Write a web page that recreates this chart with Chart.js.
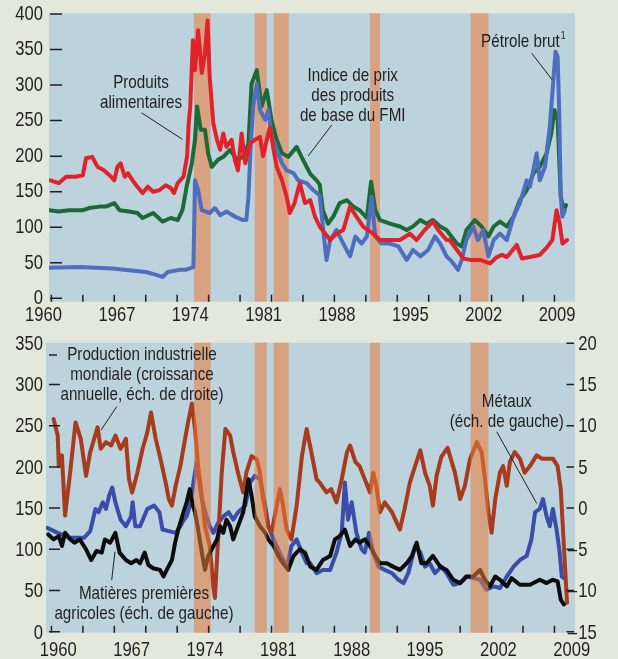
<!DOCTYPE html>
<html lang="fr">
<head>
<meta charset="utf-8">
<title>Prix des produits de base et production industrielle</title>
<script src="https://cdn.jsdelivr.net/npm/chart.js@4.4.1/dist/chart.umd.min.js"></script>
<style>
  html, body { margin: 0; padding: 0; background: #e3e8da; }
  #wrap { position: relative; width: 618px; height: 659px; }
  canvas { position: absolute; left: 0; }
  #top { top: 0; }
  #bottom { top: 330px; }
</style>
</head>
<body>
<div id="wrap">
  <canvas id="top" width="618" height="330"></canvas>
  <canvas id="bottom" width="618" height="329"></canvas>
</div>
<script>
const FONT = '"Liberation Sans", Arial, sans-serif';
const INK = "#231f20";
const PLOT_BG = "#bcd2dc";

// recession periods (years)
const recessionStart = [1973.9, 1979.7, 1981.5, 1990.7, 2000.3];
const recessionEnd = [1975.5, 1980.85, 1982.95, 1991.65, 2002.0];

// axis labels and tick marks
const yearLabels = ["1960", "1967", "1974", "1981", "1988", "1995", "2002", "2009"];
const yearTickMarks = [1960.3, 1963.3, 1966.3, 1969.3, 1972.3, 1975.3, 1978.3, 1981.3, 1984.3,
  1987.3, 1990.3, 1993.3, 1996.3, 1999.3, 2002.3, 2005.3, 2008.3];
const topTicks = [0, 50, 100, 150, 200, 250, 300, 350, 400];
const leftTicks = [0, 50, 100, 150, 200, 250, 300, 350];
const rightTicks = [20, 15, 10, 5, 0, -5, -10, -15];

// top panel: food, IMF commodity index, crude oil
const foodYears = [1960.2, 1961.0, 1961.7, 1962.6, 1963.3, 1963.6, 1964.2, 1964.7, 1965.3, 1966.0, 1966.3, 1966.6, 1966.9,
  1967.3, 1967.6, 1968.05, 1968.5, 1969.0, 1969.5, 1970.0, 1970.6, 1971.2, 1971.7, 1972.0, 1972.35, 1972.9,
  1973.25, 1973.4, 1973.55, 1973.8, 1974.0, 1974.3, 1974.65, 1974.95, 1975.2, 1975.4, 1975.75, 1976.1, 1976.4,
  1976.7, 1977.0, 1977.5, 1977.8, 1978.1, 1978.45, 1978.8, 1979.25, 1979.7, 1980.2, 1980.5, 1980.85, 1981.15,
  1981.5, 1981.8, 1982.3, 1982.75, 1983.05, 1983.5, 1984.0, 1984.5, 1985.0, 1985.45, 1985.9, 1986.9, 1987.5,
  1988.15, 1988.8, 1989.4, 1990.05, 1991.0, 1991.65, 1992.6, 1993.55, 1994.5, 1995.15, 1995.8, 1996.7, 1997.2,
  1998.0, 1998.3, 1999.0, 1999.6, 2000.25, 2001.2, 2002.15, 2002.8, 2003.3, 2003.77, 2004.7, 2005.2, 2005.96,
  2006.9, 2007.6, 2008.1, 2008.5, 2008.8, 2009.06, 2009.5];
const foodValues = [166, 162, 171, 171, 173, 197, 199, 185, 180, 171, 166, 185, 190,
  171, 176, 166, 157, 148, 157, 150, 152, 159, 155, 148, 162, 171,
  200, 246, 270, 363, 321, 377, 317, 345, 391, 312, 246, 223, 209,
  232, 213, 223, 195, 180, 232, 190, 218, 223, 227, 200, 223, 241,
  209, 185, 166, 143, 120, 134, 162, 134, 138, 115, 101, 82, 91,
  96, 129, 115, 101, 91, 82, 82, 82, 91, 82, 94, 108, 96,
  82, 82, 68, 56, 54, 54, 49, 58, 61, 58, 75, 56, 58,
  61, 72, 82, 124, 105, 77, 82];

const indexYears = [1960.1, 1961.0, 1962.0, 1963.3, 1963.9, 1964.9, 1965.5, 1966.3, 1966.8, 1967.7, 1968.5, 1969.0,
  1970.0, 1970.9, 1971.7, 1972.35, 1972.8, 1973.1, 1973.2, 1973.7, 1974.0, 1974.2, 1974.55, 1974.95, 1975.25,
  1975.6, 1976.2, 1976.7, 1977.35, 1978.0, 1978.6, 1979.1, 1979.4, 1979.9, 1980.35, 1980.85, 1981.3, 1981.8,
  1982.3, 1982.9, 1983.7, 1984.3, 1985.0, 1985.6, 1985.9, 1986.2, 1986.7, 1987.2, 1987.8, 1988.5, 1989.1,
  1989.7, 1990.4, 1990.8, 1991.2, 1991.65, 1992.6, 1993.55, 1994.2, 1994.8, 1995.5, 1996.1, 1996.7, 1997.4,
  1998.0, 1998.97, 1999.45, 1999.9, 2000.7, 2001.35, 2002.0, 2002.5, 2003.1, 2003.75, 2004.4, 2005.0, 2005.65,
  2006.3, 2006.9, 2007.55, 2008.0, 2008.3, 2008.6, 2008.9, 2009.2, 2009.4];
const indexValues = [124, 122, 124, 124, 127, 129, 129, 134, 124, 122, 120, 113,
  120, 108, 113, 110, 124, 148, 157, 190, 223, 270, 237, 237, 204,
  185, 195, 199, 209, 195, 199, 218, 302, 321, 270, 293, 251, 223,
  204, 199, 213, 195, 175, 166, 160, 124, 105, 115, 134, 138, 129,
  124, 113, 164, 124, 110, 105, 101, 96, 101, 110, 105, 110, 101,
  96, 77, 73, 96, 110, 101, 87, 101, 108, 101, 115, 138, 152,
  176, 185, 204, 232, 265, 251, 143, 124, 131];

const oilYears = [1960.1, 1963.0, 1966.1, 1969.3, 1970.3, 1970.9, 1971.4, 1972.5, 1973.1, 1973.85, 1974.0, 1974.3,
  1974.65, 1975.4, 1975.9, 1976.4, 1977.0, 1977.8, 1978.6, 1978.9, 1979.1, 1979.3, 1979.55, 1979.9, 1980.2,
  1980.7, 1981.0, 1981.3, 1981.8, 1982.3, 1982.75, 1983.4, 1983.85, 1984.65, 1985.3, 1985.9, 1986.2, 1986.55,
  1986.9, 1987.5, 1988.15, 1988.8, 1989.3, 1989.9, 1990.4, 1990.85, 1991.2, 1991.8, 1992.6, 1993.4, 1994.2,
  1994.8, 1995.5, 1996.25, 1996.9, 1997.4, 1998.0, 1998.5, 1999.1, 1999.45, 1999.9, 2000.55, 2001.0, 2001.5,
  2002.0, 2002.5, 2003.1, 2003.75, 2004.4, 2005.0, 2005.65, 2005.96, 2006.6, 2006.9, 2007.4, 2007.85, 2008.15,
  2008.4, 2008.6, 2008.75, 2008.9, 2009.06, 2009.3];
const oilValues = [43, 44, 42, 37, 33, 30, 37, 40, 40, 44, 166, 152,
  124, 120, 127, 117, 122, 115, 110, 110, 143, 209, 270, 302, 265,
  251, 265, 227, 209, 190, 180, 176, 166, 162, 152, 145, 101, 54,
  82, 96, 77, 59, 87, 77, 87, 143, 87, 77, 77, 73, 54,
  68, 59, 68, 87, 77, 59, 52, 40, 54, 82, 101, 82, 96,
  59, 82, 91, 82, 115, 134, 166, 157, 204, 166, 185, 241, 298,
  347, 340, 265, 143, 115, 124];

// bottom panel: metals and agricultural raw materials (left), world industrial production (right)
const metalsYears = [1959.9, 1960.9, 1962.1, 1963.4, 1964.0, 1964.5, 1964.8, 1965.2, 1965.5, 1965.8, 1966.1, 1966.4,
  1966.9, 1967.4, 1967.9, 1968.05, 1968.3, 1968.75, 1969.45, 1970.1, 1970.6, 1970.9, 1971.5, 1972.15, 1972.6,
  1972.95, 1973.2, 1973.5, 1973.85, 1974.15, 1974.65, 1975.1, 1975.4, 1975.75, 1976.2, 1976.7, 1977.2, 1977.65,
  1978.1, 1978.8, 1979.25, 1979.7, 1980.2, 1980.7, 1981.0, 1981.5, 1982.1, 1982.75, 1983.2, 1983.7, 1984.2,
  1984.65, 1985.0, 1985.6, 1986.2, 1986.9, 1987.5, 1988.0, 1988.3, 1988.6, 1988.95, 1989.4, 1989.9, 1990.2,
  1990.6, 1991.0, 1991.5, 1992.1, 1992.8, 1993.4, 1993.9, 1994.35, 1995.0, 1995.5, 1995.95, 1996.4, 1996.9,
  1997.5, 1998.0, 1998.65, 1999.3, 1999.9, 2000.55, 2001.2, 2001.8, 2002.5, 2003.1, 2003.75, 2004.4, 2005.0,
  2005.65, 2006.1, 2006.45, 2006.9, 2007.2, 2007.55, 2007.85, 2008.15, 2008.5, 2008.8, 2009.0, 2009.2];
const metalsValues = [126, 120, 114, 114, 122, 149, 145, 157, 149, 165, 175, 157,
  136, 128, 140, 157, 128, 128, 149, 153, 145, 124, 122, 120, 128,
  136, 140, 153, 181, 206, 161, 140, 128, 120, 132, 140, 145, 136,
  145, 153, 181, 189, 185, 153, 128, 112, 96, 79, 104, 112, 96,
  83, 83, 71, 75, 75, 96, 120, 181, 136, 157, 120, 100, 96,
  120, 96, 79, 75, 71, 63, 59, 71, 104, 96, 79, 83, 71,
  79, 71, 57, 59, 67, 65, 63, 51, 55, 53, 67, 79, 87,
  92, 112, 145, 149, 161, 140, 128, 149, 124, 96, 67, 65];

const agriYears = [1960.0, 1960.5, 1961.0, 1961.3, 1961.6, 1962.1, 1962.5, 1963.0, 1963.6, 1964.1, 1964.6, 1965.1,
  1965.4, 1965.9, 1966.4, 1966.8, 1967.4, 1967.9, 1968.4, 1968.75, 1969.2, 1969.55, 1970.0, 1970.66, 1971.0,
  1971.3, 1971.8, 1972.1, 1972.4, 1972.9, 1973.2, 1973.5, 1973.8, 1974.0, 1974.3, 1974.65, 1974.95, 1975.25,
  1975.6, 1976.1, 1976.4, 1976.7, 1977.0, 1977.35, 1977.65, 1978.1, 1978.6, 1979.1, 1979.4, 1979.7, 1980.2,
  1980.7, 1981.0, 1981.5, 1981.95, 1982.4, 1982.9, 1983.4, 1984.0, 1984.5, 1985.0, 1985.6, 1986.2, 1986.9,
  1987.35, 1987.8, 1988.3, 1988.8, 1989.3, 1989.7, 1990.2, 1990.7, 1991.2, 1991.65, 1992.3, 1992.9, 1993.55,
  1994.2, 1994.7, 1995.15, 1995.6, 1996.1, 1996.7, 1997.4, 1998.0, 1998.65, 1999.3, 1999.9, 2000.55, 2001.2,
  2001.67, 2002.15, 2002.65, 2003.1, 2003.75, 2004.2, 2005.0, 2005.96, 2006.9, 2007.55, 2008.15, 2008.6,
  2008.9, 2009.2];
const agriValues = [118, 112, 116, 104, 120, 112, 108, 112, 100, 87, 98, 96,
  112, 108, 120, 96, 87, 83, 87, 83, 96, 81, 77, 75, 67,
  75, 87, 108, 124, 145, 157, 173, 153, 145, 124, 96, 75, 92,
  100, 112, 128, 120, 136, 128, 112, 128, 145, 185, 165, 140, 128,
  120, 112, 104, 92, 83, 75, 92, 100, 96, 79, 75, 87, 92,
  112, 116, 124, 104, 112, 108, 112, 104, 92, 83, 83, 79, 75,
  83, 92, 108, 83, 83, 92, 79, 75, 63, 59, 67, 67, 75,
  63, 55, 67, 63, 55, 65, 57, 57, 63, 59, 63, 61,
  39, 33];

const prodYears = [1960.5, 1960.9, 1961.0, 1961.3, 1961.6, 1962.1, 1962.6, 1963.1, 1963.6, 1964.0, 1964.7, 1965.0,
  1965.5, 1966.0, 1966.4, 1966.9, 1967.4, 1967.7, 1968.0, 1968.5, 1969.0, 1969.45, 1969.8, 1970.25, 1970.7,
  1971.2, 1971.5, 1971.8, 1972.15, 1972.6, 1973.0, 1973.35, 1973.7, 1974.0, 1974.3, 1974.65, 1974.95, 1975.4,
  1975.75, 1975.9, 1976.2, 1976.55, 1976.9, 1977.35, 1977.65, 1978.1, 1978.6, 1978.9, 1979.4, 1979.9, 1980.2,
  1980.5, 1981.0, 1981.3, 1981.8, 1982.1, 1982.4, 1982.75, 1983.2, 1983.7, 1984.2, 1984.65, 1985.1, 1985.6,
  1985.9, 1986.55, 1987.0, 1987.5, 1988.0, 1988.5, 1988.8, 1989.3, 1989.7, 1990.2, 1990.7, 1991.0, 1991.3,
  1991.65, 1992.1, 1992.8, 1993.25, 1993.55, 1994.0, 1994.5, 1995.0, 1995.5, 1995.95, 1996.4, 1996.7, 1997.05,
  1997.5, 1998.1, 1998.8, 1999.3, 1999.75, 2000.25, 2000.9, 2001.35, 2001.67, 2002.0, 2002.3, 2002.65, 2003.1,
  2003.4, 2003.75, 2004.05, 2004.5, 2005.0, 2005.45, 2005.96, 2006.6, 2007.1, 2007.55, 2008.15, 2008.6, 2008.9,
  2009.2, 2009.5];
const prodValues = [10.8, 8.8, 5.1, 6.4, -0.9, 4.5, 10.4, 8.4, 3.9, 6.8, 9.8, 7.2,
  8.0, 7.6, 8.8, 7.2, 8.4, 3.5, 1.9, 4.3, 7.2, 9.2, 11.6, 8.4, 6.0,
  3.1, 1.1, 0.3, 2.7, 5.1, 8.0, 10.5, 12.7, 9.6, 5.1, 1.5, -2.2, -4.6,
  -9.5, -10.9, -3.8, 4.3, 9.6, 8.8, 6.8, 4.3, 1.9, 4.3, 6.3, 5.9, 4.3,
  1.1, -2.2, -3.0, 0.3, 2.3, 0.3, -2.6, -3.8, 0.3, 6.3, 9.6, 6.8, 3.5,
  3.1, 1.9, 2.3, 0.7, 3.5, 6.8, 7.6, 5.6, 5.1, 3.5, 1.9, 4.3, 2.7,
  -0.5, 0.7, -0.5, -1.8, -2.6, -0.1, 3.1, 5.1, 7.0, 4.3, 2.7, 0.3, 3.9,
  6.2, 7.3, 4.3, 1.1, 2.7, 6.0, 8.0, 6.8, 3.5, -0.5, -3.0, 1.1, 4.3,
  5.1, 2.7, 5.6, 6.8, 6.0, 4.3, 5.1, 6.4, 6.0, 6.0, 6.0, 5.1, 2.3,
  -4.6, -11.5];

// ---------- helpers ----------
function points(years, values) {
  return years.map((x, i) => ({ x, y: values[i] }));
}

function lineSet(label, years, values, color, axis) {
  return {
    label,
    data: points(years, values),
    borderColor: color,
    borderWidth: 4,
    pointRadius: 0,
    tension: 0,
    borderJoinStyle: "round",
    borderCapStyle: "round",
    yAxisID: axis || "y"
  };
}

// condensed text: the original uses a narrow face, so squeeze a regular one
function say(ctx, str, x, y, align, size, squeeze) {
  ctx.save();
  ctx.font = size + "px " + FONT;
  ctx.textBaseline = "middle";
  ctx.textAlign = align;
  ctx.fillStyle = INK;
  ctx.translate(x, y);
  ctx.scale(squeeze || 0.79, 1);
  ctx.fillText(str, 0, 0);
  ctx.restore();
}

function textWidth(ctx, str, size, squeeze) {
  ctx.save();
  ctx.font = size + "px " + FONT;
  const w = ctx.measureText(str).width * (squeeze || 0.79);
  ctx.restore();
  return w;
}

const plotBackground = {
  id: "plotBackground",
  beforeDraw(chart) {
    const { ctx, chartArea: a } = chart;
    ctx.save();
    ctx.fillStyle = PLOT_BG;
    ctx.fillRect(a.left, a.top, a.right - a.left, a.bottom - a.top);
    ctx.restore();
  }
};

function drawBands(chart, fill) {
  const { ctx, chartArea: a, scales } = chart;
  ctx.save();
  ctx.fillStyle = fill;
  recessionStart.forEach((s, i) => {
    const x0 = scales.x.getPixelForValue(s);
    const x1 = scales.x.getPixelForValue(recessionEnd[i]);
    ctx.fillRect(x0, a.top, x1 - x0, a.bottom - a.top);
  });
  ctx.restore();
}

function drawYearLabels(chart, shift, centerY) {
  const x = chart.scales.x;
  yearLabels.forEach(l => say(chart.ctx, l, x.getPixelForValue(Number(l) + shift), centerY, "center", 21));
}

function drawNotes(chart, notes, leaders) {
  const { ctx, scales } = chart;
  const xs = scales.x, ys = scales.y;
  notes.forEach(n => {
    const px = xs.getPixelForValue(n.x);
    const py = ys.getPixelForValue(n.y);
    n.lines.forEach((t, i) => say(ctx, t, px, py + i * 20, "center", 19, 0.8));
    if (n.sup) {
      const w = textWidth(ctx, n.lines[0], 19, 0.8);
      say(ctx, n.sup, px + w / 2 + 1, py - 6, "left", 11, 0.8);
    }
  });
  ctx.save();
  ctx.strokeStyle = INK;
  ctx.lineWidth = 1;
  leaders.forEach(l => {
    ctx.beginPath();
    ctx.moveTo(xs.getPixelForValue(l[0]), ys.getPixelForValue(l[1]));
    ctx.lineTo(xs.getPixelForValue(l[2]), ys.getPixelForValue(l[3]));
    ctx.stroke();
  });
  ctx.restore();
}

function xAxis(min, height) {
  return {
    type: "linear",
    min,
    max: 2010.26,
    grid: { display: false, drawTicks: false },
    border: { display: false },
    ticks: { display: false },
    afterFit: s => { s.height = height; s.paddingLeft = 0; s.paddingRight = 0; }
  };
}

function yAxis(min, max, width, position) {
  return {
    type: "linear",
    position,
    min,
    max,
    grid: { display: false, drawTicks: false },
    border: { display: false },
    ticks: { display: false },
    afterFit: s => { s.width = width; s.paddingTop = 0; s.paddingBottom = 0; }
  };
}

Chart.defaults.animation = false;

// ---------- top chart ----------
const topNotes = [
  { lines: ["Produits", "alimentaires"], x: 1968.85, y: 303 },
  { lines: ["Indice de prix", "des produits", "de base du FMI"], x: 1989.05, y: 312.7 },
  { lines: ["Pétrole brut"], x: 2005.05, y: 361, sup: "1" }
];
const topLeaders = [
  [1968.9, 261, 1972.8, 223.7],
  [1987.05, 243.8, 1984.8, 200.2],
  [2006.13, 344.7, 2008.1, 307.1]
];

new Chart(document.getElementById("top"), {
  type: "line",
  data: {
    datasets: [
      lineSet("Produits alimentaires", foodYears, foodValues, "#e2222b"),
      lineSet("Pétrole brut", oilYears, oilValues, "#4f6ebf"),
      lineSet("Indice de prix des produits de base du FMI", indexYears, indexValues, "#1c6b37")
    ]
  },
  options: {
    responsive: false,
    devicePixelRatio: 1,
    layout: { padding: { top: 13.3, right: 43, left: 0, bottom: 0 } },
    plugins: { legend: { display: false }, tooltip: { enabled: false } },
    scales: {
      x: xAxis(1960.07, 28.3),
      y: yAxis(-4.8, 401, 49, "left")
    }
  },
  plugins: [plotBackground, {
    id: "topDecor",
    beforeDatasetsDraw(chart) { drawBands(chart, "#d9a383"); },
    afterDatasetsDraw(chart) {
      const { ctx, chartArea: a, scales } = chart;
      ctx.save();
      ctx.strokeStyle = INK;
      ctx.lineWidth = 1.5;
      ctx.beginPath();
      topTicks.forEach(v => {
        const py = scales.y.getPixelForValue(v);
        ctx.moveTo(a.left + 1, py); ctx.lineTo(a.left + 13, py);
      });
      yearTickMarks.forEach(v => {
        const px = scales.x.getPixelForValue(v);
        ctx.moveTo(px, a.bottom); ctx.lineTo(px, a.bottom - 7);
      });
      ctx.stroke();
      ctx.restore();
      topTicks.forEach(v => say(ctx, String(v), a.left - 6, scales.y.getPixelForValue(v), "right", 21));
      drawYearLabels(chart, -0.45, 315.5);
    },
    afterDraw(chart) { drawNotes(chart, topNotes, topLeaders); }
  }]
});

// ---------- bottom chart ----------
const bottomNotes = [
  { lines: ["Production industrielle", "mondiale (croissance", "annuelle, éch. de droite)"], x: 1968.94, y: 335.8 },
  { lines: ["Matières premières", "agricoles (éch. de gauche)"], x: 1969.13, y: 46.6 },
  { lines: ["Métaux", "(éch. de gauche)"], x: 2003.75, y: 279.1 }
];
const bottomLeaders = [
  [1966.53, 273.1, 1965.03, 244.7],
  [1966.05, 62.7, 1966.36, 97.1],
  [2002.79, 242.7, 2006.6, 155.8]
];

new Chart(document.getElementById("bottom"), {
  type: "line",
  data: {
    datasets: [
      lineSet("Matières premières agricoles", agriYears, agriValues, "#0d0d0d"),
      lineSet("Production industrielle mondiale", prodYears, prodValues, "#a63b1d", "y2"),
      lineSet("Métaux", metalsYears, metalsValues, "#3a4dab")
    ]
  },
  options: {
    responsive: false,
    devicePixelRatio: 1,
    layout: { padding: { top: 12.7, right: 0, left: 0, bottom: 0 } },
    plugins: { legend: { display: false }, tooltip: { enabled: false } },
    scales: {
      x: xAxis(1959.78, 26.3),
      y: yAxis(-1.2, 350.7, 46, "left"),
      y2: yAxis(-15.12, 20.07, 43, "right")
    }
  },
  plugins: [plotBackground, {
    id: "bottomDecor",
    afterDatasetsDraw(chart) {
      drawBands(chart, "rgba(235,123,57,0.55)");
      const { ctx, chartArea: a, scales } = chart;
      ctx.save();
      ctx.strokeStyle = INK;
      ctx.lineWidth = 1.5;
      ctx.beginPath();
      leftTicks.filter(v => v < 350).forEach(v => {
        const py = scales.y.getPixelForValue(v);
        ctx.moveTo(a.left + 3, py); ctx.lineTo(a.left + 14, py);
      });
      rightTicks.forEach(v => {
        const py = scales.y2.getPixelForValue(v);
        ctx.moveTo(a.right - 8.5, py); ctx.lineTo(a.right - 1, py);
      });
      yearTickMarks.forEach(v => {
        const px = scales.x.getPixelForValue(v);
        ctx.moveTo(px, a.bottom); ctx.lineTo(px, a.bottom - 7);
      });
      // short dash in front of the production label
      const dy = scales.y.getPixelForValue(335.8);
      ctx.moveTo(a.left + 3, dy); ctx.lineTo(a.left + 11, dy);
      ctx.stroke();
      ctx.restore();

      leftTicks.forEach(v => say(ctx, String(v), a.left - 3, scales.y.getPixelForValue(v) + 1, "right", 21));
      // right-hand scale: digits aligned, minus sign hanging to the left
      rightTicks.forEach(v => {
        const py = scales.y2.getPixelForValue(v) + 1;
        say(ctx, String(Math.abs(v)), a.right + 3.3, py, "left", 21);
        if (v < 0) say(ctx, "\u2013", a.right + 2, py, "right", 21);
      });
      drawYearLabels(chart, 0.95, 320);
    },
    afterDraw(chart) { drawNotes(chart, bottomNotes, bottomLeaders); }
  }]
});
</script>
</body>
</html>
